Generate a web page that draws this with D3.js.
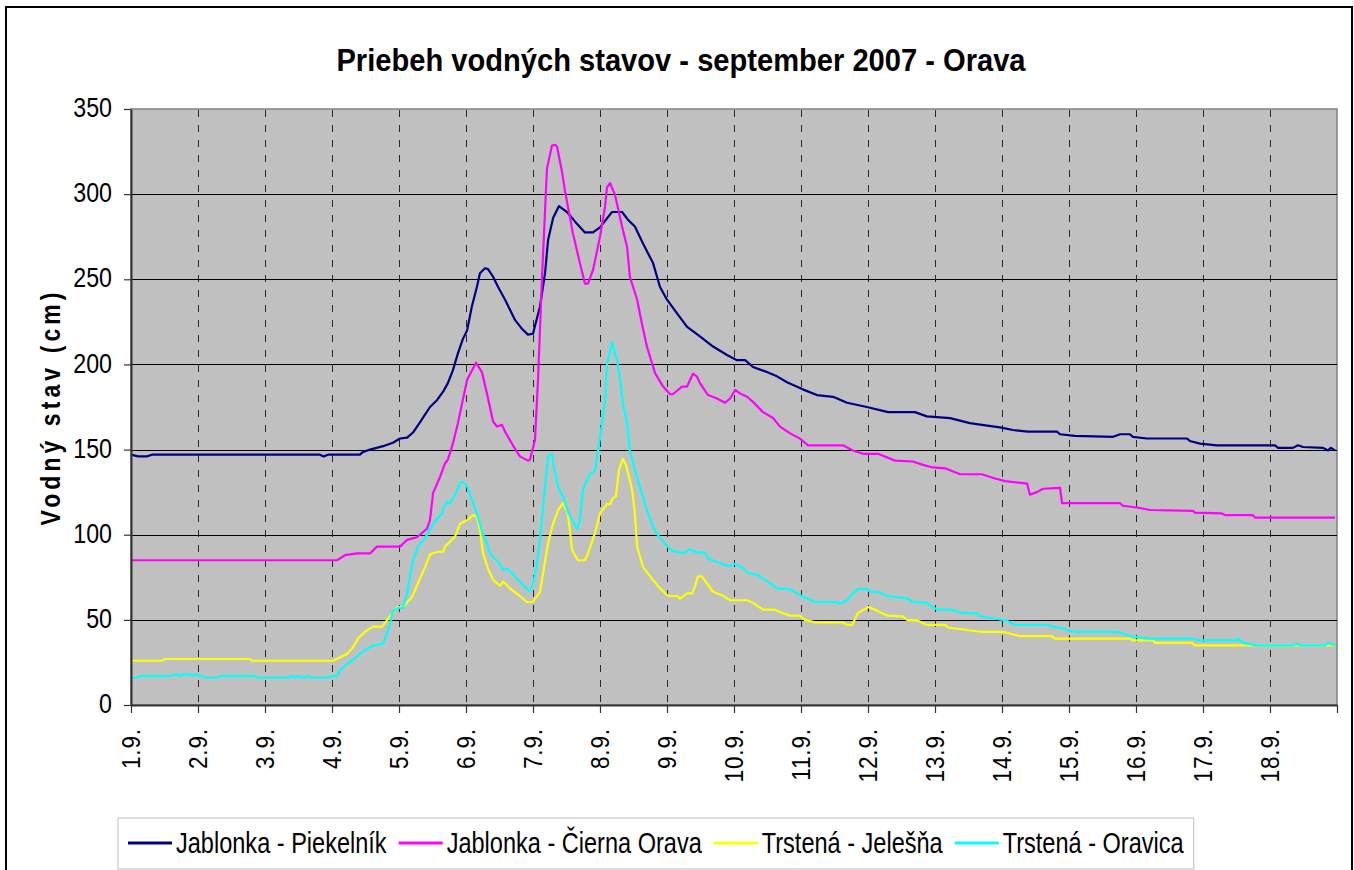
<!DOCTYPE html>
<html>
<head>
<meta charset="utf-8">
<title>Priebeh vodných stavov - september 2007 - Orava</title>
<script src="https://cdn.jsdelivr.net/npm/d3@7"></script>
<style>
  body { margin: 0; background: #fff; }
  text { font-family: "Liberation Sans", Arial, sans-serif; fill: #000; }
</style>
</head>
<body>
<script>

// water levels in cm, [hours from 1.9. 00:00, value]
var piekelnik = [[0,147],[2.5,146],[5.7,146],[7.5,147],[67.7,147],[69,146],[70.6,147],[82,147],[83,148.5],[85.6,150],[90.3,152],[93.8,154],[96.4,156.5],[98.9,157],[101,160],[103.5,166],[107.1,175],[109.6,179],[111.8,184],[113.5,189],[115.3,196.5],[117.1,206.5],[118.9,215],[120.4,220],[122.1,234],[123.9,245.5],[125,253.5],[126.8,256.5],[127.9,256],[129.7,251.5],[131.5,245.5],[134,238],[135.8,232],[137.6,226],[140,221],[142.2,217.5],[144,218],[146.5,234],[148.3,253.5],[149.4,273],[151.2,286],[153.3,293],[156.2,289.5],[159,284],[162.6,277.5],[165.5,277.5],[168,280.5],[172.3,289.5],[175.9,289.5],[178,285],[180.5,281],[183.4,271],[187,259.5],[189.5,245.5],[192,238],[195.6,230],[199.2,222],[203.8,216.5],[208.5,210.5],[213.5,205.5],[217.1,202.5],[220,202.5],[222.8,198.5],[227.8,195.5],[231.4,193],[235,189.5],[240.4,185.5],[245.7,182],[251.5,181],[256.5,177.5],[263.6,175],[271.2,172],[280.8,172],[285.1,169.5],[293.4,168.5],[300.5,165.5],[304.8,164.5],[311.3,163],[315.9,161.5],[321.3,160.5],[331.7,160.5],[332.8,159],[338.1,158],[351.8,157.5],[354.3,159],[357.8,159],[358.9,157.5],[363.9,156.5],[378.3,156.5],[379.3,155],[382.9,153.5],[389,152.5],[409.8,152.5],[410.9,151],[416.2,151],[418,152.5],[419.8,151.5],[427,151],[428.8,149.5],[429.8,151],[431.3,149.5]];

var ciernaOrava = [[0,85],[73.8,85],[76.7,88],[81,89],[85.6,89],[88.1,93],[96.4,93],[98.9,97],[102.4,98.5],[106,103.5],[107.1,108.5],[108.2,124.5],[110.7,134],[112.5,142],[113.5,144],[115.3,153.5],[117.1,165.5],[118.6,177],[120.4,191],[123.6,201],[125.7,195.5],[127.5,183],[129.7,166.5],[131.1,163.5],[132.9,164.5],[134,160.5],[136.8,152.5],[139.3,146],[142.2,143.5],[142.9,144],[144.7,155.5],[145.8,191],[147.2,250],[149,315],[150.8,328.5],[151.9,329],[152.6,328],[154.4,313],[155.5,301.5],[158.3,277],[160.8,259.5],[162.6,247.5],[163.7,247.5],[165.5,255.5],[168,275],[169.8,292.5],[170.5,304],[171.6,306.5],[173.4,299.5],[175.9,281],[177.7,269],[178.7,251.5],[181.3,238],[183,224],[184.8,210.5],[187.7,195],[190.6,187],[193.1,182.5],[194.1,182.5],[197.4,187],[199.2,187],[201.3,194.5],[202.7,193],[203.8,189],[206.7,182],[209.9,180],[212.8,177.5],[214.6,180],[216.4,185],[218.1,183],[220.7,181],[222.8,178],[226.4,172],[230,168.5],[232.5,163.5],[236.1,159.5],[239.6,156.5],[242.5,152.5],[255,152.5],[258.6,149.5],[262.2,147.5],[267.6,147.5],[273.7,143.5],[280.1,143],[283.7,141],[287.3,139.5],[291.6,139],[297,135.5],[304.8,135.5],[309.5,133],[313.1,131.5],[321,130],[322,123.5],[324.5,125],[326.7,127],[332.8,127.5],[333.5,118.5],[354.3,118.5],[355.3,117],[360.4,116],[365,114.5],[380.4,114],[381.1,113],[390.8,112.5],[391.9,111.5],[401.9,111.5],[402.6,110],[431.3,110]];

var jelesna = [[0,26],[11.1,26],[12.2,27],[42.6,27],[43.3,26],[72.4,26],[74.9,28],[77.4,30],[79.5,34],[81.3,39],[83.8,43],[86.7,46],[89.9,46],[92.8,52],[95.3,57.5],[97.4,57.5],[100.7,63.5],[102.8,71.5],[105.3,81],[107.1,88.5],[110,90],[111.8,90],[112.5,93],[116.1,99],[117.9,106.5],[120.4,108.5],[122.5,111.5],[123.9,110.5],[125,103],[126.1,89],[127.9,80],[129.7,73.5],[132.2,70],[133.3,72.5],[135.8,68.5],[139.3,64],[141.8,60.5],[144,60.5],[146.5,66.5],[149.4,95],[151.2,106.5],[153,114.5],[154.7,118.5],[156.5,112.5],[158,91],[160.1,85],[162.6,85],[163.7,89],[166.2,101],[168,112.5],[170.5,118],[171.6,118],[172.7,121.5],[173.7,122.5],[174.8,138],[176.2,144.5],[177.3,141],[179.5,126.5],[180.5,112.5],[181.3,93],[183.4,81],[187,73.5],[189.5,68.5],[192.4,64],[195.6,64],[196.7,62.5],[199.2,65.5],[201,65.5],[202,69.5],[203.1,75.5],[204.5,75.5],[206.3,71.5],[208.5,66.5],[211.7,64.5],[214.6,61.5],[220.7,61.5],[222.8,60],[226.4,56],[230.7,56],[233.2,54],[236.1,52.5],[239.6,52.5],[241.4,50],[245,48.5],[255,48.5],[256.5,47],[258.3,47],[260.4,54],[264,57.5],[266.5,56],[270.8,52.5],[276.5,52],[278,50],[281.9,49.5],[285.1,47],[291.6,47],[292.7,45.5],[304.1,43],[312.3,43],[318.4,40.5],[329.9,40.5],[331,39],[357.8,39],[358.9,38],[366.1,38],[366.8,36.5],[380.1,36.5],[381.1,35],[431.3,35]];

var oravica = [[0,16],[2.5,16],[3.2,17],[14,17],[15.8,18],[17.6,17],[18.6,18],[21.1,18],[22.2,17],[23.6,18],[24.7,17],[27.2,16],[31.2,16],[31.9,17],[44.4,17],[45.5,16],[56.2,16],[57.7,17],[58.7,16],[59.8,17],[61.6,16],[63.4,17],[64.8,16],[70.6,16],[72,17],[73.8,17],[74.9,20.5],[77.7,24.5],[79.5,26.5],[82.7,31],[85.6,34],[87.4,35],[90.3,36],[91.7,42],[92.8,48],[93.8,55],[95.6,57],[97.4,57],[98.9,65.5],[99.9,75],[101,85],[102.8,93],[105.3,98],[108.2,106.5],[111.4,112.5],[111.8,115.5],[113.2,119],[114.3,118.5],[116.1,123.5],[117.9,130.5],[118.9,131],[120.4,128.5],[122.1,120.5],[123.9,112.5],[126.1,100],[127.5,95],[128.6,89],[131.5,84],[133.3,79.5],[134.7,80],[136.5,77.5],[138.3,74],[140.4,70.5],[142.6,67],[144,70.5],[145.4,83],[146.5,97],[147.6,116.5],[149.4,146],[150.8,147.5],[151.5,140],[153,128],[154.7,122.5],[156.5,113.5],[158.3,107.5],[159.8,103.5],[160.8,108.5],[161.9,126.5],[163.3,132],[164.4,135.5],[166.2,137.5],[167.3,149.5],[168.7,165],[169.8,179],[170.5,200],[172.3,213],[174.1,202.5],[175.2,191],[176.2,177],[177.7,165.5],[178.7,149.5],[180.5,138],[182.3,128],[184.8,114.5],[187,104.5],[189.5,98],[192,93.5],[193.8,90.5],[196.7,89.5],[198.4,89.5],[200.2,91.5],[202.7,89.5],[205.6,89.5],[206.7,86],[209.9,84],[213.9,81.5],[216.4,83],[219.2,80.5],[221,77.5],[224.2,76.5],[227.1,73.5],[229.6,71],[231.4,68.5],[236.1,68],[239.6,64.5],[242.1,62.5],[245,60.5],[252.9,60.5],[254,59.5],[256.5,61.5],[258.6,65.5],[260.4,68],[263.6,68],[264.7,66.5],[267.6,66.5],[270.8,64],[273.7,63.5],[278,62.5],[280.1,60.5],[285.1,60],[286.9,57.5],[289.1,56],[293.4,56],[298,54],[303,54],[304.1,52],[310.2,50.5],[313.8,49.5],[316.7,47],[328.1,47],[330.3,46],[333.8,45],[336.4,43.5],[338.9,43],[353.2,43],[357.8,40.5],[363.9,39],[380.4,39],[381.9,38],[396.2,38],[396.5,39],[398.3,36.5],[403.3,35],[416.2,35],[417.6,36],[418.7,35],[427.7,35],[428.8,36.5],[431.3,35]];

var seriesNames = ["Jablonka - Piekelník", "Jablonka - Čierna Orava", "Trstená - Jelešňa", "Trstená - Oravica"];
var dayLabels = ["1.9.","2.9.","3.9.","4.9.","5.9.","6.9.","7.9.","8.9.","9.9.","10.9.","11.9.","12.9.","13.9.","14.9.","15.9.","16.9.","17.9.","18.9."];
var yTicks = [0, 50, 100, 150, 200, 250, 300, 350];

var series = [piekelnik, ciernaOrava, jelesna, oravica];
var colors = ["#000080", "#ff00ff", "#ffff00", "#00ffff"];

// set up the size for svg
var width = 1354;
var height = 870;
var plot = {left: 131, right: 1337, top: 109, bottom: 705};
var hours = dayLabels.length * 24;

var svg = d3.select("body")
	.append("svg")
	.attr("width", width)
	.attr("height", height);

// outer chart frame
svg.append("rect")
	.attr("x", 6)
	.attr("y", 7)
	.attr("width", 1346)
	.attr("height", 900)
	.style("fill", "#fff")
	.style("stroke", "#000")
	.style("stroke-width", 2);

var x = d3.scaleLinear().domain([0, hours]).range([plot.left, plot.right]);
var y = d3.scaleLinear().domain([0, 350]).range([plot.bottom, plot.top]);

// gray plot area
svg.append("rect")
	.attr("x", x(0))
	.attr("y", y(350))
	.attr("width", x(hours) - x(0))
	.attr("height", y(0) - y(350))
	.style("fill", "#c0c0c0")
	.style("stroke", "#808080")
	.style("stroke-width", 1.5);

// solid horizontal gridlines
svg.append("g")
	.selectAll("line")
	.data(yTicks.filter(function(d) { return d > 0 && d < 350; }))
	.enter()
	.append("line")
	.attr("x1", x(0))
	.attr("x2", x(hours))
	.attr("y1", function(d) { return Math.round(y(d)) + 0.5; })
	.attr("y2", function(d) { return Math.round(y(d)) + 0.5; })
	.style("stroke", "#000")
	.style("stroke-width", 1);

// dashed vertical gridlines, one per day
svg.append("g")
	.selectAll("line")
	.data(d3.range(1, dayLabels.length).map(function(d) { return d * 24; }))
	.enter()
	.append("line")
	.attr("x1", function(d) { return Math.round(x(d)) + 0.5; })
	.attr("x2", function(d) { return Math.round(x(d)) + 0.5; })
	.attr("y1", y(350) + 1)
	.attr("y2", y(0))
	.style("stroke", "#282828")
	.style("stroke-width", 1)
	.style("stroke-dasharray", "7,8");

// water level lines
var line = d3.line()
	.x(function(d) { return x(d[0]); })
	.y(function(d) { return y(d[1]); });

svg.append("g")
	.selectAll("path")
	.data(series)
	.enter()
	.append("path")
	.attr("d", line)
	.style("fill", "none")
	.style("stroke", function(d, i) { return colors[i]; })
	.style("stroke-width", 2.2)
	.style("stroke-linejoin", "round");

// y axis
var yAxis = svg.append("g")
	.attr("transform", "translate(" + plot.left + ",0)")
	.call(d3.axisLeft(y).tickValues(yTicks).tickSize(7).tickSizeOuter(0));

yAxis.select(".domain").style("stroke", "#333").style("stroke-width", 2);
yAxis.selectAll(".tick line").style("stroke", "#333").style("stroke-width", 1.2);
yAxis.selectAll(".tick text")
	.attr("x", 0)
	.attr("dy", "0.28em")
	.attr("transform", "translate(-19,0) scale(0.86,1)")
	.style("font-size", "27px")
	.style("font-family", '"Liberation Sans", Arial, sans-serif')
	.style("fill", "#000");

// x axis with rotated day labels
var xAxis = svg.append("g")
	.attr("transform", "translate(0," + plot.bottom + ")")
	.call(d3.axisBottom(x)
		.tickValues(d3.range(0, hours + 1, 24))
		.tickFormat(function(d, i) { return i < dayLabels.length ? dayLabels[i] : ""; })
		.tickSize(8)
		.tickSizeOuter(0));

xAxis.select(".domain").style("stroke", "#333").style("stroke-width", 2);
xAxis.selectAll(".tick line").style("stroke", "#333").style("stroke-width", 1.2);
xAxis.selectAll(".tick text")
	.attr("x", 0)
	.attr("y", 0)
	.attr("dy", "0.35em")
	.attr("transform", "translate(0,23) rotate(-90) scale(0.9,1)")
	.style("text-anchor", "end")
	.style("font-size", "25px")
	.style("letter-spacing", "1px")
	.style("font-family", '"Liberation Sans", Arial, sans-serif')
	.style("fill", "#000");

// chart title
svg.append("text")
	.attr("transform", "translate(681,71) scale(0.91,1)")
	.attr("text-anchor", "middle")
	.style("font-size", "32px")
	.style("font-weight", "bold")
	.text("Priebeh vodných stavov - september 2007 - Orava");

// y axis title
svg.append("text")
	.attr("transform", "translate(50,407) rotate(-90) scale(0.82,1)")
	.attr("text-anchor", "middle")
	.attr("dy", "0.35em")
	.style("font-size", "28px")
	.style("font-weight", "bold")
	.style("letter-spacing", "5px")
	.text("Vodný stav (cm)");

// legend laid out left to right
var legend = svg.append("g");
var legendBox = legend.append("rect")
	.attr("x", 118)
	.attr("y", 818)
	.attr("height", 51)
	.style("fill", "#fff")
	.style("stroke", "#c8c8c8")
	.style("stroke-width", 1.2);

var cursor = 128;
seriesNames.forEach(function(name, i) {
	legend.append("line")
		.attr("x1", cursor)
		.attr("x2", cursor + 44)
		.attr("y1", 843)
		.attr("y2", 843)
		.style("stroke", colors[i])
		.style("stroke-width", 3);

	var label = legend.append("text")
		.attr("transform", "translate(" + (cursor + 48) + ",853) scale(0.785,1)")
		.style("font-size", "30px")
		.text(name);

	cursor = cursor + 48 + label.node().getComputedTextLength() * 0.785 + 12;
});
legendBox.attr("width", cursor - 2 - 118);

</script>
</body>
</html>
